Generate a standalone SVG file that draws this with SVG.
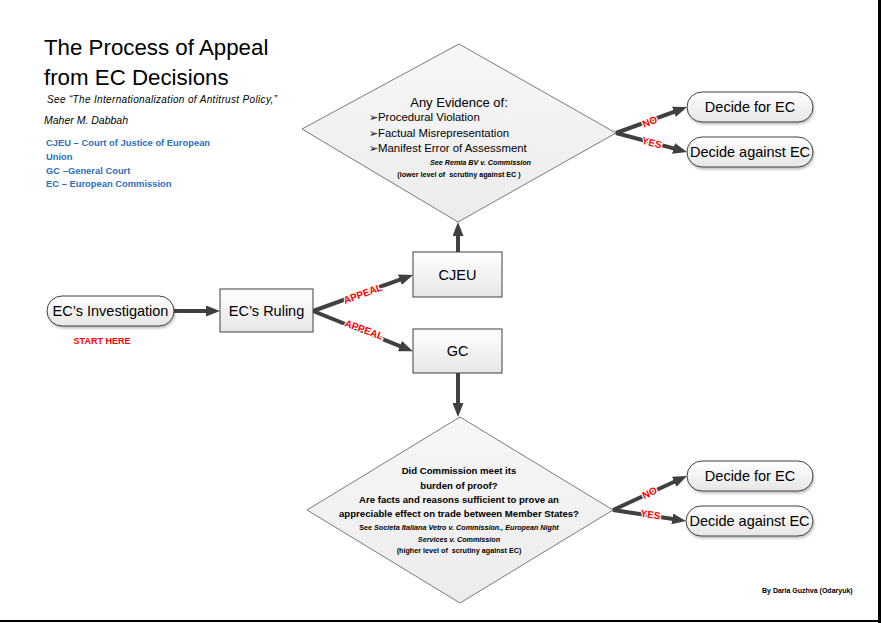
<svg xmlns="http://www.w3.org/2000/svg" width="881" height="623" viewBox="0 0 881 623">
<defs>
<linearGradient id="g" x1="0" y1="0" x2="0" y2="1">
<stop offset="0" stop-color="#ffffff"/>
<stop offset="1" stop-color="#e6e6e6"/>
</linearGradient>
<linearGradient id="gd" x1="0" y1="0" x2="0" y2="1">
<stop offset="0" stop-color="#f7f7f7"/>
<stop offset="1" stop-color="#ececec"/>
</linearGradient>
<filter id="sh" x="-10%" y="-20%" width="130%" height="160%">
<feDropShadow dx="1" dy="2" stdDeviation="1.2" flood-color="#000" flood-opacity="0.25"/>
</filter>
<marker id="ah" viewBox="0 0 14 11" refX="6" refY="5.5" markerWidth="14" markerHeight="11" markerUnits="userSpaceOnUse" orient="auto">
<path d="M0,0 L14,5.5 L0,11 z" fill="#404040"/>
</marker>
<style>
text{font-family:"Liberation Sans",Arial,sans-serif;}
.box{fill:url(#g);stroke:#404040;stroke-width:1;}
.pill{fill:url(#g);stroke:#404040;stroke-width:1;filter:url(#sh);}
.dia{fill:url(#gd);stroke:#595959;stroke-width:0.8;}
.lbl{font-size:14.5px;fill:#000;text-anchor:middle;}
.con{fill:none;stroke:#404040;stroke-width:4;marker-end:url(#ah);}
.red{font-size:10px;font-weight:bold;fill:#ff0000;text-anchor:middle;stroke:#fff;stroke-width:2.5px;paint-order:stroke;}
.blue{font-size:9.4px;font-weight:bold;fill:#2e6fb7;}
.d2{font-size:9.6px;font-weight:bold;text-anchor:middle;fill:#000;}
.sm{font-size:7.2px;font-weight:bold;fill:#000;white-space:pre;}
.bul{font-size:11.4px;}
</style>
</defs>
<rect x="0" y="0" width="881" height="623" fill="#fff"/>
<rect x="878" y="0" width="3" height="623" fill="#000"/>
<rect x="0" y="620" width="881" height="2" fill="#000"/>

<g id="header">
<text x="44" y="55" font-size="22.3">The Process of Appeal</text>
<text x="44" y="85" font-size="22.3">from EC Decisions</text>
<text x="47" y="103" font-size="10" font-style="italic" textLength="230">See “The Internationalization of Antitrust Policy,”</text>
<text x="44" y="124" font-size="10.5" font-style="italic">Maher M. Dabbah</text>
<text class="blue" x="46" y="146">CJEU – Court of Justice of European</text>
<text class="blue" x="46" y="160">Union</text>
<text class="blue" x="46" y="174">GC –General Court</text>
<text class="blue" x="46" y="187">EC – European Commission</text>
<text x="762" y="593" font-size="7" font-weight="bold">By Daria Guzhva (Odaryuk)</text>
</g>

<g id="connectors">
<path class="con" d="M174,311 L212,311"/>
<path class="con" d="M313,311 L405.5,277.7"/>
<path class="con" d="M313,311 L405.5,348.3"/>
<path class="con" d="M458,252 L458,230"/>
<path class="con" d="M458,373 L458,409"/>
<path class="con" d="M616,133 L679.5,109.8"/>
<path class="con" d="M616,133 L679.3,149.9"/>
<path class="con" d="M613,510 L679.7,479.3"/>
<path class="con" d="M613,510 L678.1,519.8"/>
<text class="red" transform="translate(364,297) rotate(-20)">APPEAL</text>
<text class="red" transform="translate(363,333) rotate(20)">APPEAL</text>
<text class="red" transform="translate(651,125) rotate(-21)">NO</text>
<text class="red" transform="translate(651,146) rotate(15)">YES</text>
<text class="red" transform="translate(651,496) rotate(-25)">NO</text>
<text class="red" transform="translate(650,518) rotate(9)">YES</text>
</g>

<g id="investigation">
<rect class="pill" x="47" y="296" width="127" height="30" rx="15"/>
<text class="lbl" x="110.5" y="316">EC’s Investigation</text>
<text x="102" y="344" font-size="9" font-weight="bold" fill="#ff0000" text-anchor="middle">START HERE</text>
</g>

<g id="ruling">
<rect class="box" x="220" y="289" width="93" height="43"/>
<text class="lbl" x="266.5" y="316">EC’s Ruling</text>
</g>

<g id="cjeu">
<rect class="box" x="413" y="252" width="89" height="45"/>
<text class="lbl" x="457.5" y="280" font-size="14">CJEU</text>
</g>

<g id="gc">
<rect class="box" x="413" y="329" width="89" height="44"/>
<text class="lbl" x="457.5" y="356" font-size="14">GC</text>
</g>

<g id="decision1">
<polygon class="dia" points="459,44 616,133 458,222 302,129"/>
<text x="459" y="107" font-size="13" text-anchor="middle">Any Evidence of:</text>
<text class="bul" x="369" y="121">➢Procedural Violation</text>
<text class="bul" x="369" y="137">➢Factual Misrepresentation</text>
<text class="bul" x="369" y="152">➢Manifest Error of Assessment</text>
<text class="sm" x="531" y="165" text-anchor="end" font-style="italic">See Remia BV v. Commission</text>
<text class="sm" x="459" y="177" text-anchor="middle" font-size="7.8">(lower level of  scrutiny against EC )</text>
</g>

<g id="decision2">
<polygon class="dia" points="460,417 613,510 460,603 307,510"/>
<text class="d2" x="459" y="474">Did Commission meet its</text>
<text class="d2" x="459" y="489">burden of proof?</text>
<text class="d2" x="459" y="503">Are facts and reasons sufficient to prove an</text>
<text class="d2" x="459" y="517">appreciable effect on trade between Member States?</text>
<text class="sm" x="459" y="530" text-anchor="middle" font-size="6.9">See <tspan font-style="italic">Societa Italiana Vetro v. Commission., European Night</tspan></text>
<text class="sm" x="459" y="542" text-anchor="middle" font-style="italic">Services v. Commission</text>
<text class="sm" x="459" y="553" text-anchor="middle" font-size="7.6">(higher level of  scrutiny against EC)</text>
</g>

<g id="for1">
<rect class="pill" x="687" y="92" width="126" height="30" rx="15"/>
<text class="lbl" x="750" y="112">Decide for EC</text>
</g>
<g id="against1">
<rect class="pill" x="687" y="137" width="126" height="30" rx="15"/>
<text class="lbl" x="750" y="157">Decide against EC</text>
</g>
<g id="for2">
<rect class="pill" x="687" y="461" width="126" height="30" rx="15"/>
<text class="lbl" x="750" y="481">Decide for EC</text>
</g>
<g id="against2">
<rect class="pill" x="686" y="506" width="127" height="30" rx="15"/>
<text class="lbl" x="749.5" y="526">Decide against EC</text>
</g>
</svg>
